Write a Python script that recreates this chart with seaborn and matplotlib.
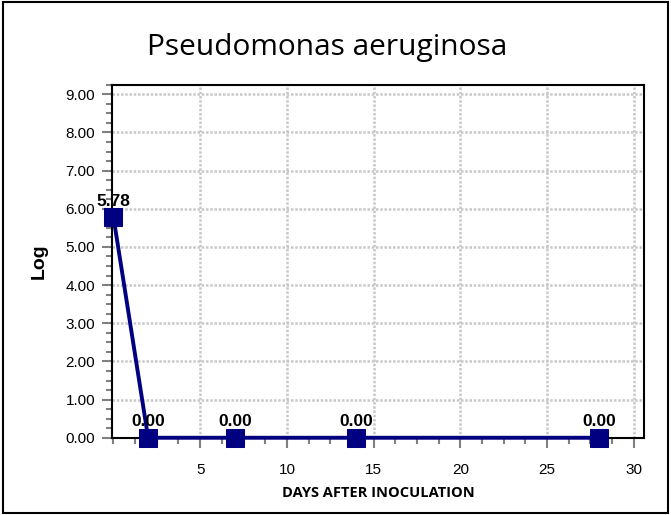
import pandas as pd
import seaborn as sns
import matplotlib.pyplot as plt
from matplotlib.ticker import MultipleLocator, FormatStrFormatter
from matplotlib.patches import Rectangle

# --- Data ---
days = [0, 2, 7, 14, 28]
log_counts = [5.78, 0.00, 0.00, 0.00, 0.00]
x_ticks = [5, 10, 15, 20, 25, 30]
y_ticks = [0, 1, 2, 3, 4, 5, 6, 7, 8, 9]

TITLE = 'Pseudomonas aeruginosa'
X_LABEL = 'DAYS AFTER INOCULATION'
Y_LABEL = 'Log'
NAVY = '#000080'
GRID = '#c8c8c8'
TICK = '#808080'

df = pd.DataFrame({'day': days, 'log': log_counts})

sns.set_style('white')
plt.rcParams['font.family'] = ['Liberation Sans', 'DejaVu Sans']
plt.rcParams['text.color'] = 'black'
plt.rcParams['axes.labelcolor'] = 'black'

fig = plt.figure(figsize=(6.71, 5.15), dpi=100)
ax = fig.add_axes([0.1665, 0.150, 0.7935, 0.6855])

# --- Line + markers ---
sns.lineplot(data=df, x='day', y='log', ax=ax, color=NAVY, linewidth=2.8,
             marker='s', markersize=13.5, markeredgecolor=NAVY, zorder=5)
for ln in ax.lines:
    ln.set_clip_on(False)

for d, v in zip(days, log_counts):
    ax.annotate(f'{v:.2f}', (d, v), xytext=(0, 6), textcoords='offset points',
                ha='center', va='bottom', fontsize=12.5, fontweight='bold',
                color='black', zorder=6)

# --- Axes ---
ax.set_xlim(-0.1, 30.6)
ax.set_ylim(0, 9.25)
ax.set_xticks(x_ticks)
ax.set_yticks(y_ticks)
ax.xaxis.set_minor_locator(MultipleLocator(1.25))
ax.yaxis.set_minor_locator(MultipleLocator(0.25))
ax.yaxis.set_major_formatter(FormatStrFormatter('%.2f'))

ax.grid(True, which='major', color=GRID, linestyle=(0, (1, 0.7)), linewidth=1.8)
ax.set_axisbelow(True)

for s in ax.spines.values():
    s.set_visible(True)
    s.set_color('black')
    s.set_linewidth(1.5)

ax.tick_params(axis='both', which='major', direction='out', length=7, width=1.5,
               color=TICK, labelsize=11, labelcolor='black')
ax.tick_params(axis='both', which='minor', direction='out', length=4, width=1.5,
               color=TICK)
ax.tick_params(axis='x', which='major', pad=11)
ax.tick_params(axis='y', which='major', pad=5)
ax.tick_params(bottom=True, left=True, which='both')

ax.set_xlabel(X_LABEL, fontsize=10.5, fontweight='bold', family=['Open Sans', 'DejaVu Sans'],
              labelpad=7)
ax.set_ylabel(Y_LABEL, fontsize=14, fontweight='bold', labelpad=13)

fig.text(0.487, 1 - 55 / 515, TITLE, ha='center', va='baseline', fontsize=21.5,
         color='black', family=['Open Sans', 'DejaVu Sans'])

# outer frame around the whole chart
fig.patches.append(Rectangle((0.004, 0.003), 0.992, 0.994, transform=fig.transFigure,
                             fill=False, edgecolor='black', linewidth=1.5))

fig.savefig('out.png', dpi=100)
